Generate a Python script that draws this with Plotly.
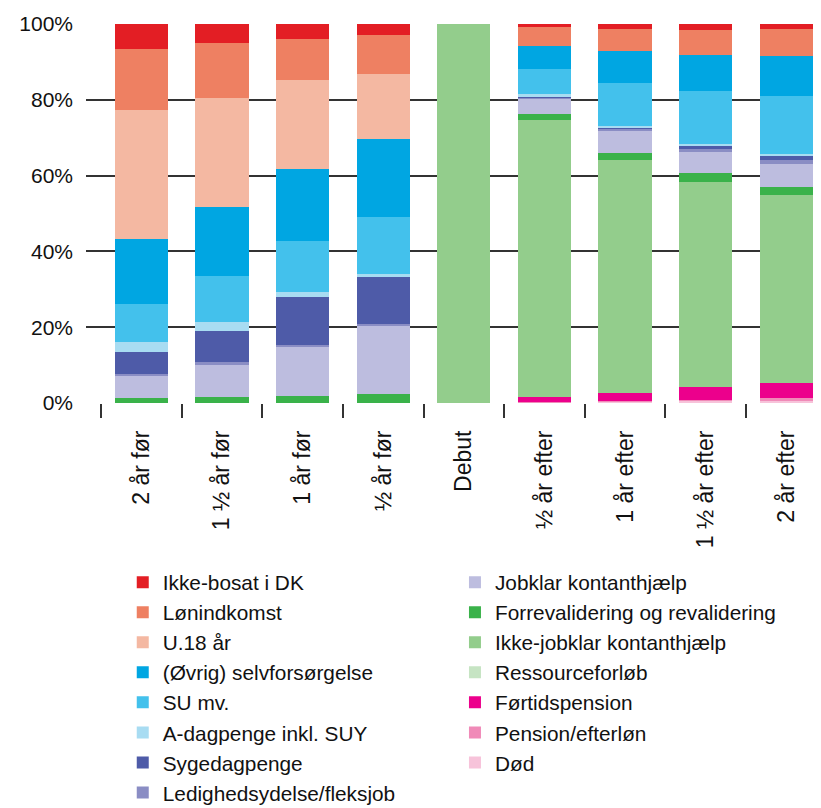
import plotly.graph_objects as go

categories = ["2 år før", "1 ½ år før", "1 år før", "½ år før", "Debut",
              "½ år efter", "1 år efter", "1 ½ år efter", "2 år efter"]

ikke_bosat = [6.5, 5.2, 3.9, 2.8, 0, 0.7, 1.2, 1.5, 1.5]
loenindkomst = [16.1, 14.3, 10.8, 10.3, 0, 5.0, 6.0, 6.6, 7.1]
u18 = [33.9, 28.8, 23.5, 17.2, 0, 0, 0, 0, 0]
oevrig_selv = [17.2, 18.3, 19.0, 20.6, 0, 6.3, 8.3, 9.5, 10.6]
su = [10.1, 12.2, 13.5, 15.1, 0, 6.6, 11.3, 14.0, 15.1]
a_dagpenge = [2.6, 2.4, 1.3, 0.8, 0, 0.5, 0.5, 0.5, 0.5]
sygedagpenge = [5.8, 8.2, 12.6, 12.3, 0, 0.2, 0.4, 0.8, 1.1]
ledighed = [0.5, 0.5, 0.4, 0.4, 0, 0.3, 0.5, 0.8, 1.1]
jobklar = [5.8, 8.5, 13.0, 18.0, 0, 4.2, 5.8, 5.6, 6.1]
forrevalidering = [1.4, 1.7, 1.9, 2.5, 0, 1.6, 1.9, 2.4, 2.1]
ikke_jobklar = [0, 0, 0, 0, 100, 73.1, 61.4, 54.2, 49.5]
ressource = [0, 0, 0, 0, 0, 0, 0, 0, 0]
foertid = [0, 0, 0, 0, 0, 1.2, 2.1, 3.2, 4.0]
pension = [0, 0, 0, 0, 0, 0.1, 0.2, 0.3, 0.8]
doed = [0, 0, 0, 0, 0, 0.2, 0.4, 0.6, 0.6]

y_ticks = [0, 20, 40, 60, 80, 100]
y_tick_labels = ["0%", "20%", "40%", "60%", "80%", "100%"]

# legend column 1 (top to bottom)
col1 = [
    ("Ikke-bosat i DK", ikke_bosat, "#E31E24"),
    ("Lønindkomst", loenindkomst, "#EE8062"),
    ("U.18 år", u18, "#F4B8A2"),
    ("(Øvrig) selvforsørgelse", oevrig_selv, "#00A6E2"),
    ("SU mv.", su, "#43C1EC"),
    ("A-dagpenge inkl. SUY", a_dagpenge, "#A8DCF2"),
    ("Sygedagpenge", sygedagpenge, "#4E5BA8"),
    ("Ledighedsydelse/fleksjob", ledighed, "#8A8DC4"),
]
col2 = [
    ("Jobklar kontanthjælp", jobklar, "#BDBDDF"),
    ("Forrevalidering og revalidering", forrevalidering, "#3AB24A"),
    ("Ikke-jobklar kontanthjælp", ikke_jobklar, "#93CD8C"),
    ("Ressourceforløb", ressource, "#C6E4C3"),
    ("Førtidspension", foertid, "#EC008C"),
    ("Pension/efterløn", pension, "#F08AB8"),
    ("Død", doed, "#F7C3DA"),
]

fig = go.Figure()
# stack from bottom: reverse of legend order
for name, vals, color in reversed(col2):
    fig.add_trace(go.Bar(x=categories, y=vals, name=name, marker_color=color,
                         marker_line_width=0, legend="legend2"))
for name, vals, color in reversed(col1):
    fig.add_trace(go.Bar(x=categories, y=vals, name=name, marker_color=color,
                         marker_line_width=0, legend="legend"))

FONT = "Liberation Sans, Arial, sans-serif"
LEG_FONT = dict(size=20.8, family=FONT, color="#111111")
fig.update_layout(
    width=813, height=800,
    margin=dict(l=78, r=0, t=16, b=405, autoexpand=False),
    barmode="stack", bargap=0.34,
    plot_bgcolor="white", paper_bgcolor="white",
    font=dict(family=FONT, size=21, color="#111111"),
    legend=dict(x=0.05, xanchor="left", y=-0.42, yanchor="top",
                traceorder="reversed", font=LEG_FONT,
                bgcolor="rgba(0,0,0,0)"),
    legend2=dict(x=0.502, xanchor="left", y=-0.42, yanchor="top",
                 traceorder="reversed", font=LEG_FONT,
                 bgcolor="rgba(0,0,0,0)"),
)
fig.update_xaxes(type="category", range=[-0.686, 8.43], tickson="boundaries",
                 ticks="outside", ticklen=14, tickwidth=1.5, tickcolor="#333333",
                 tickangle=-90, tickfont=dict(size=23, family=FONT),
                 ticklabelstandoff=22,
                 showgrid=False, showline=False, zeroline=False)
fig.update_yaxes(range=[0, 100], tickvals=y_ticks, ticktext=y_tick_labels,
                 showgrid=True, gridcolor="#333333", gridwidth=1.8,
                 zeroline=False, showline=False, ticks="",
                 tickfont=dict(size=21, family=FONT), ticklabelstandoff=12)

fig.write_html("out.html")
